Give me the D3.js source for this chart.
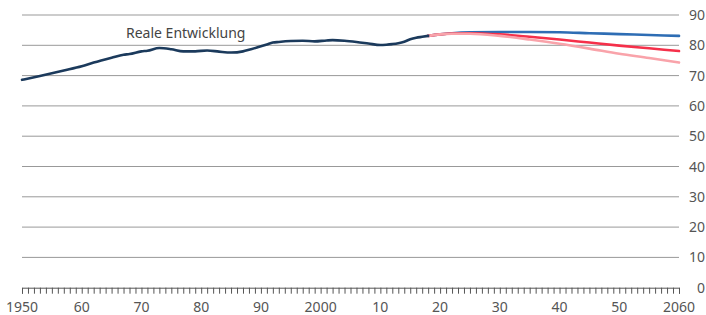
<!DOCTYPE html>
<html lang="de">
<head>
    <meta charset="UTF-8">
    <title>Bevölkerung</title>
    <script src="https://d3js.org/d3.v7.min.js"></script>
    <style>
        body { margin: 0; background: #fff; }
        text { font-family: "Noto Sans", sans-serif; fill: #555; }
        .line { fill: none; stroke-width: 2.6px; stroke-linejoin: round; stroke-linecap: round; }
    </style>
</head>
<body>
<svg width="706" height="315"></svg>
<script>
    // Reale Entwicklung 1950-2018
    const realYears = [1950, 1953, 1957, 1960, 1962, 1965, 1967, 1968, 1970, 1971, 1973, 1975, 1977, 1979, 1981, 1983, 1985, 1987, 1988, 1990, 1991, 1992, 1993, 1995, 1997, 1999, 2001, 2002, 2004, 2006, 2008, 2010, 2011, 2012, 2013, 2014, 2015, 2016, 2017, 2018];
    const realValues = [68.6, 69.9, 71.7, 73.1, 74.3, 75.9, 76.9, 77.1, 78.0, 78.2, 79.1, 78.7, 78.0, 78.0, 78.3, 77.9, 77.6, 78.0, 78.5, 79.7, 80.3, 80.9, 81.1, 81.4, 81.5, 81.3, 81.6, 81.7, 81.5, 81.1, 80.6, 80.1, 80.2, 80.4, 80.7, 81.2, 82.0, 82.5, 82.8, 83.1];

    // Vorausberechnung 2018-2060
    const projYears = [2018, 2020, 2022, 2025, 2030, 2035, 2040, 2045, 2050, 2055, 2060];
    const highValues = [83.1, 83.6, 84.0, 84.3, 84.4, 84.4, 84.3, 84.0, 83.7, 83.4, 83.1];
    const midValues = [83.1, 83.6, 83.9, 84.0, 83.6, 82.8, 81.9, 80.9, 79.9, 79.0, 78.1];
    const lowValues = [83.1, 83.6, 83.8, 83.8, 83.1, 81.9, 80.5, 78.9, 77.2, 75.8, 74.3];

    const xTickLabels = ["1950", "60", "70", "80", "90", "2000", "10", "20", "30", "40", "50", "2060"];
    const yTicks = [0, 10, 20, 30, 40, 50, 60, 70, 80, 90];

    const svg = d3.select("svg");
    const x = d3.scaleLinear().domain([1950, 2060]).range([22, 679]);
    const y = d3.scaleLinear().domain([0, 90]).range([287.7, 15]);

    // gridlines
    svg.append("g").selectAll("line")
        .data(yTicks.filter(d => d > 0))
        .join("line")
        .attr("x1", x(1950)).attr("x2", x(2060))
        .attr("y1", d => y(d)).attr("y2", d => y(d))
        .attr("stroke", "#999")
        .attr("stroke-width", 1);

    // y labels on the right
    svg.append("g").selectAll("text")
        .data(yTicks)
        .join("text")
        .attr("x", 705)
        .attr("y", d => y(d) + 5)
        .attr("text-anchor", "end")
        .style("font-size", "14px")
        .text(d => d);

    // x axis with yearly ticks
    const xAxis = d3.axisBottom(x)
        .tickValues(d3.range(1950, 2061, 1))
        .tickSize(6)
        .tickFormat("");
    const gx = svg.append("g")
        .attr("transform", `translate(0,${y(0)})`)
        .call(xAxis);
    gx.select(".domain").attr("stroke", "#555");
    gx.selectAll(".tick line").attr("stroke", "#555");

    svg.append("g").selectAll("text")
        .data(d3.range(1950, 2061, 10))
        .join("text")
        .attr("x", d => x(d))
        .attr("y", 311.5)
        .attr("text-anchor", "middle")
        .style("font-size", "14px")
        .text((d, i) => xTickLabels[i]);

    const line = d3.line()
        .x(d => x(d[0]))
        .y(d => y(d[1]))
        .curve(d3.curveMonotoneX);

    const series = [
        { years: projYears, values: highValues, color: "#2e6db4" },
        { years: projYears, values: midValues, color: "#f5304a" },
        { years: projYears, values: lowValues, color: "#f9a3aa" },
        { years: realYears, values: realValues, color: "#1b3a5c" }
    ];

    svg.append("g").selectAll("path")
        .data(series)
        .join("path")
        .attr("class", "line")
        .attr("stroke", d => d.color)
        .attr("d", d => line(d.years.map((yr, i) => [yr, d.values[i]])));

    svg.append("text")
        .attr("x", 126)
        .attr("y", 37.5)
        .style("font-size", "14px")
        .style("fill", "#444")
        .text("Reale Entwicklung");
</script>
</body>
</html>
